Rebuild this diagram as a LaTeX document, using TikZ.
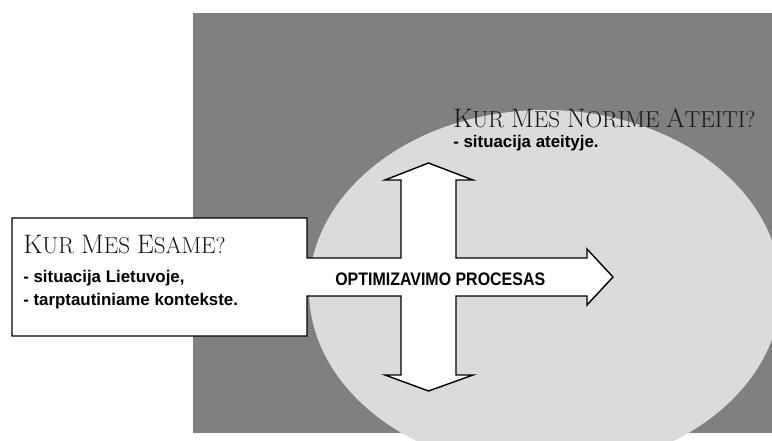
\documentclass[tikz,border=0pt]{standalone}
\usepackage{fontspec}
\newfontfamily\itemfont{Liberation Sans}
\newfontfamily\procfont{Liberation Sans}[FakeStretch=0.88]
\newcommand\capw[2]{{\fontsize{19}{21}\selectfont #1}#2}

\begin{document}
\begin{tikzpicture}[x=0.025cm, y=-0.025cm,
    title/.style={anchor=base west, inner sep=0pt, text=black!92, font=\fontsize{16.4}{20}\selectfont},
    item/.style={anchor=base west, inner sep=0pt, font=\itemfont\bfseries\fontsize{12}{14}\selectfont},
    outline/.style={draw=black, fill=white, line width=1pt, line join=miter}]
    \useasboundingbox (0, 0) rectangle (772, 441);

    % background
    \fill[black!50] (193, 13) rectangle (772, 433);
    \fill[black!14] (545, 290) ellipse [x radius=236, y radius=180];

    % box + process cross
    \draw[outline] (12, 218) -- (307, 218) -- (307, 258) -- (401, 258) -- (401, 180) -- (385, 180)
        -- (428.5, 163) -- (473, 180) -- (456, 180) -- (456, 258) -- (587, 258) -- (587, 249)
        -- (613, 277) -- (587, 305) -- (587, 296) -- (456, 296) -- (456, 375) -- (473, 375)
        -- (428.5, 391) -- (385, 375) -- (401, 375) -- (401, 296) -- (307, 296) -- (307, 336)
        -- (12, 336) -- cycle;

    % now
    \node[title] (now) at (23, 253) {\capw{K}{UR} \capw{M}{ES} \capw{E}{SAME?}};
    \node[item] (now1) at (23, 282) {- situacija Lietuvoje,};
    \node[item] (now2) at (23, 305) {- tarptautiniame kontekste.};

    % future
    \node[title] (goal) at (453, 127) {\capw{K}{UR} \capw{M}{ES} \capw{N}{ORIME} \capw{A}{TEITI?}};
    \node[item] (goal1) at (453, 147) {- situacija ateityje.};

    % process
    \node[item, font=\procfont\bfseries\fontsize{12.9}{14}\selectfont] (proc) at (335, 285) {OPTIMIZAVIMO PROCESAS};
\end{tikzpicture}
\end{document}
